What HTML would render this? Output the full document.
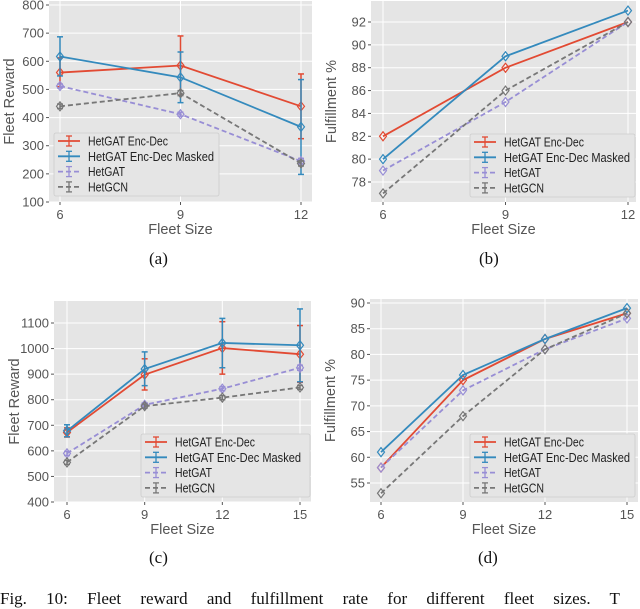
<!DOCTYPE html>
<html><head><meta charset="utf-8"><style>
body{margin:0;background:#fff;width:640px;height:600px;overflow:hidden;position:relative;font-family:"Liberation Sans",sans-serif}
svg{position:absolute;left:0;top:0}
.cap{position:absolute;font-family:"Liberation Serif",serif;font-size:17px;color:#111}
</style></head><body>
<svg id="chart" width="640" height="600" xmlns="http://www.w3.org/2000/svg"></svg>
<div class="cap" style="left:149px;top:249px">(a)</div>
<div class="cap" style="left:479px;top:249px">(b)</div>
<div class="cap" style="left:149px;top:548px">(c)</div>
<div class="cap" style="left:478px;top:548px">(d)</div>
<div class="cap" style="left:0px;top:589px;word-spacing:15px;white-space:nowrap">Fig. 10: Fleet reward and fulfillment rate for different fleet sizes. T</div>
<script>
const seriesNames=["HetGAT Enc-Dec","HetGAT Enc-Dec Masked","HetGAT","HetGCN"];
const xA=[6,9,12];
const aEnc=[560,585,440], aEncLo=[510,480,325], aEncHi=[612,690,555];
const aMask=[617,543,367], aMaskLo=[548,453,198], aMaskHi=[687,633,535];
const aGat=[512,412,245], aGatLo=[505,405,235], aGatHi=[519,419,255];
const aGcn=[440,487,237], aGcnLo=[432,478,228], aGcnHi=[448,496,246];
const aTicks=[100,200,300,400,500,600,700,800];
const xB=[6,9,12];
const bEnc=[82,88,92], bMask=[80,89,93], bGat=[79,85,92], bGcn=[77,86,92];
const bTicks=[78,80,82,84,86,88,90,92];
const xC=[6,9,12,15];
const cEnc=[672,898,1002,978], cEncLo=[654,838,900,868], cEncHi=[690,960,1105,1090];
const cMask=[678,920,1022,1013], cMaskLo=[655,855,925,870], cMaskHi=[702,987,1118,1155];
const cGat=[590,780,843,925], cGatLo=[582,772,835,915], cGatHi=[598,788,851,935];
const cGcn=[555,775,808,848], cGcnLo=[547,767,800,840], cGcnHi=[563,783,816,856];
const cTicks=[400,500,600,700,800,900,1000,1100];
const xD=[6,9,12,15];
const dEnc=[58,75,83,88], dMask=[61,76,83,89], dGat=[58,73,81,87], dGcn=[53,68,81,88];
const dTicks=[55,60,65,70,75,80,85,90];

const colors=["#E24A33","#348ABD","#988ED5","#777777"];
const legendTextLen=[80,126,37,40];
const NS="http://www.w3.org/2000/svg";
const svg=document.getElementById('chart');
function mk(tag,attrs,parent){const e=document.createElementNS(NS,tag);for(const k in attrs)e.setAttribute(k,attrs[k]);(parent||svg).appendChild(e);return e;}

function panel(id,box,xs,xr,yr,yTicks,series,ylabel,legend){
  const g=mk('g',{});
  
  
  const X=v=>xr[2]+(v-xr[0])/(xr[1]-xr[0])*(xr[3]-xr[2]);
  const Y=v=>yr[2]+(v-yr[0])/(yr[1]-yr[0])*(yr[3]-yr[2]);
  const bg=mk('rect',{x:box[0],y:box[1],width:box[2]-box[0],height:box[3]-box[1],fill:'#E5E5E5'},g);
  
  
  yTicks.forEach(t=>{const y=Y(t);
    mk('line',{x1:box[0],x2:box[2],y1:y,y2:y,stroke:'#fff','stroke-width':1},g);
    mk('line',{x1:box[0]-3,x2:box[0],y1:y,y2:y,stroke:'#555'},g);
    const tx=mk('text',{x:box[0]-5,y:y+4.5,'text-anchor':'end','font-size':13,fill:'#555'},g);tx.textContent=t;
    
    });
  xs.forEach(t=>{const x=X(t);
    mk('line',{x1:x,x2:x,y1:box[1],y2:box[3],stroke:'#fff','stroke-width':1},g);
    mk('line',{x1:x,x2:x,y1:box[3],y2:box[3]+3,stroke:'#555'},g);
    const tx=mk('text',{x:x,y:box[3]+17,'text-anchor':'middle','font-size':13,fill:'#555'},g);tx.textContent=t;
    
    });
  const xl=mk('text',{x:(box[0]+box[2])/2,y:box[3]+32,'text-anchor':'middle','font-size':14.5,fill:'#555'},g);xl.textContent='Fleet Size';
  
  
  const cy=(box[1]+box[3])/2, lx=box[0]-35;
  const yl=mk('text',{x:lx,y:cy,'text-anchor':'middle','font-size':14.5,fill:'#555',transform:`rotate(-90 ${lx} ${cy})`},g);yl.textContent=ylabel;
  
  
  series.forEach((s,i)=>{
    const sg=mk('g',{},g);
    
    
    const dash=i>=2?'5,3':'none';
    const pts=s.v.map((v,j)=>X(xs[j])+','+Y(v)).join(' ');
    mk('polyline',{points:pts,fill:'none',stroke:colors[i],'stroke-width':1.8,'stroke-dasharray':dash},sg);
    s.v.forEach((v,j)=>{const x=X(xs[j]);
      if(s.lo){const y1=Y(s.lo[j]),y2=Y(s.hi[j]);
        mk('line',{x1:x,x2:x,y1:y1,y2:y2,stroke:colors[i],'stroke-width':1.5},sg);
        mk('line',{x1:x-3,x2:x+3,y1:y1,y2:y1,stroke:colors[i],'stroke-width':1.5},sg);
        mk('line',{x1:x-3,x2:x+3,y1:y2,y2:y2,stroke:colors[i],'stroke-width':1.5},sg);}
      const y=Y(v);
      const m=mk('path',{d:`M${x} ${y-4.5}L${x+3.5} ${y}L${x} ${y+4.5}L${x-3.5} ${y}Z`,fill:'none',stroke:colors[i],'stroke-width':1.2},sg);
      
      });
  });
  const lg=mk('g',{},g);
  
  
  mk('rect',{x:legend[0],y:legend[1],width:legend[2],height:63,fill:'#E5E5E5',stroke:'#ccc','stroke-width':0.8,rx:2},lg);
  seriesNames.forEach((n,i)=>{const y=legend[1]+8+i*15.3, x=legend[0]+4;
    mk('line',{x1:x,x2:x+22,y1:y,y2:y,stroke:colors[i],'stroke-width':1.8,'stroke-dasharray':i>=2?'5,3':'none'},lg);
    mk('line',{x1:x+11,x2:x+11,y1:y-5,y2:y+5,stroke:colors[i],'stroke-width':1.3},lg);
    mk('line',{x1:x+8,x2:x+14,y1:y-5,y2:y-5,stroke:colors[i],'stroke-width':1.3},lg);
    mk('line',{x1:x+8,x2:x+14,y1:y+5,y2:y+5,stroke:colors[i],'stroke-width':1.3},lg);
    const t=mk('text',{x:x+30,y:y+4.5,'font-size':12.5,fill:'#222',textLength:legendTextLen[i],lengthAdjust:'spacingAndGlyphs'},lg);t.textContent=n;
    
    });
}
panel('a',[49,1,312,202],xA,[6,12,60,301],[100,800,202,5],aTicks,
 [{v:aEnc,lo:aEncLo,hi:aEncHi},{v:aMask,lo:aMaskLo,hi:aMaskHi},{v:aGat,lo:aGatLo,hi:aGatHi},{v:aGcn,lo:aGcnLo,hi:aGcnHi}],'Fleet Reward',[54,133,165]);
panel('b',[371,1,636,202],xB,[6,12,383,628],[78,92,182,22],bTicks,
 [{v:bEnc},{v:bMask},{v:bGat},{v:bGcn}],'Fulfillment %',[470,134,165]);
panel('c',[54,301,311,502],xC,[6,15,67,300],[400,1100,502,323],cTicks,
 [{v:cEnc,lo:cEncLo,hi:cEncHi},{v:cMask,lo:cMaskLo,hi:cMaskHi},{v:cGat,lo:cGatLo,hi:cGatHi},{v:cGcn,lo:cGcnLo,hi:cGcnHi}],'Fleet Reward',[141,434,169]);
panel('d',[370,299,638,502],xD,[6,15,381,627],[55,90,483,303],dTicks,
 [{v:dEnc},{v:dMask},{v:dGat},{v:dGcn}],'Fulfillment %',[470,434,165]);
</script>
</body></html>
